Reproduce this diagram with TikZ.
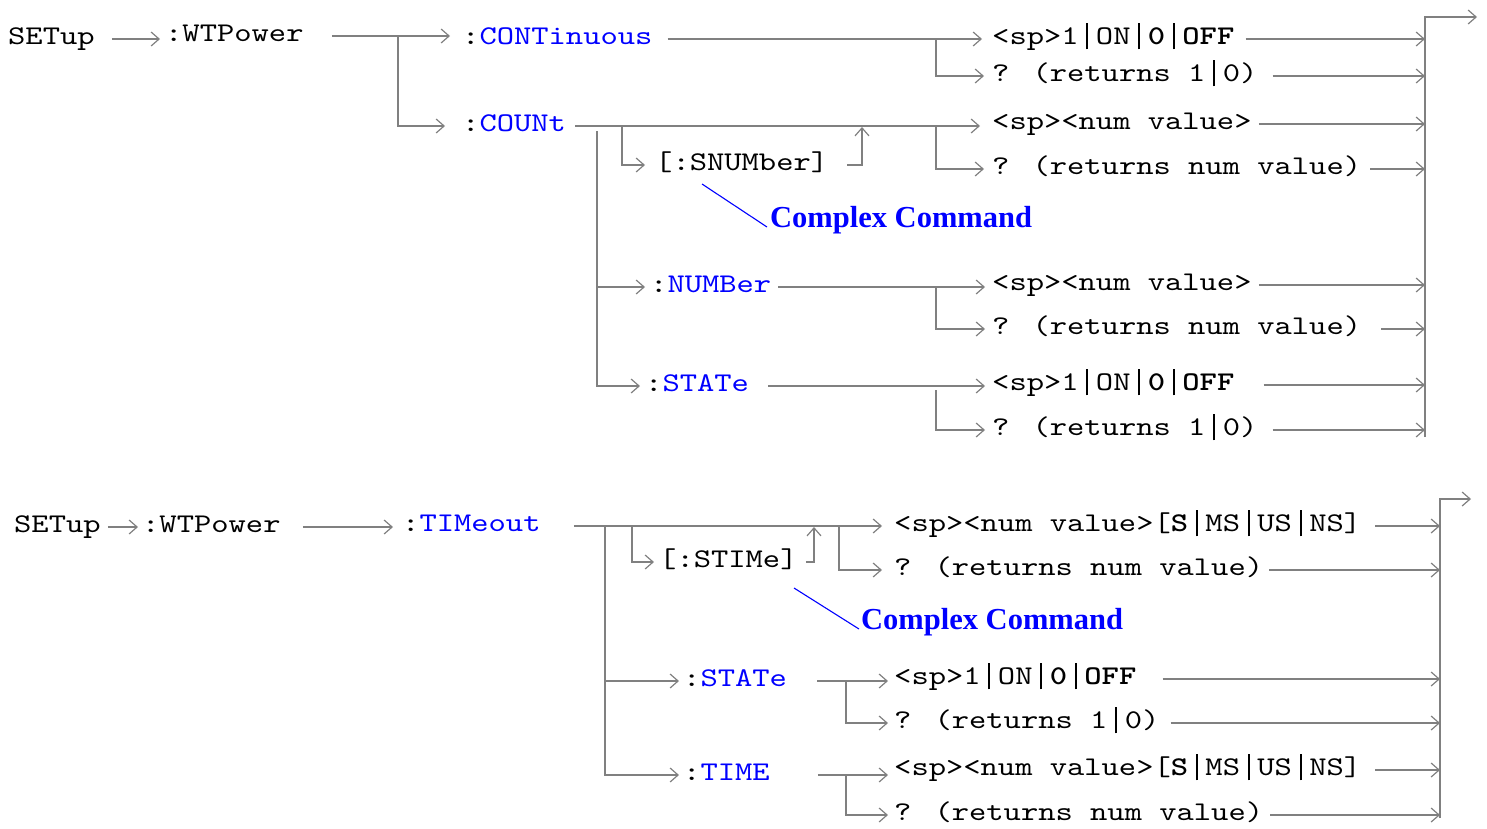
\documentclass[tikz,border=0pt]{standalone}
\usepackage{fontspec}
\usetikzlibrary{arrows.meta}
\newfontfamily\cmdfont{lmmono10-regular.otf}[BoldFont=lmmonolt10-bold.otf,FakeStretch=1.22]
\newfontfamily\notefont{Liberation Serif}
\definecolor{linegray}{RGB}{128,128,128}
\definecolor{cmdblue}{RGB}{0,0,255}
\newcommand{\kw}[1]{\textcolor{cmdblue}{#1}}
\newcommand{\vbar}{\makebox[0.6405em]{\rule[-0.2em]{0.075em}{0.98em}}}
\newcommand{\onoffsel}{<sp>1\vbar ON\vbar\textbf{0}\vbar\textbf{OFF}}
\newcommand{\timesel}{<sp><num value>[\textbf{S}\vbar MS\vbar US\vbar NS]}

\begin{document}
\begin{tikzpicture}[x=1pt,y=-1pt,
  ln/.style={linegray,line width=1.6pt},
  ar/.style={ln,-{Straight Barb[length=8pt,width=14pt,line width=1.2pt]}},
  cmd/.style={anchor=west,inner sep=0pt,text height=10pt,text depth=0pt,font=\cmdfont\fontsize{27}{27}\selectfont},
  note/.style={anchor=base west,inner sep=0pt,text=cmdblue,font=\notefont\bfseries\fontsize{30.5}{30.5}\selectfont},
  ptr/.style={cmdblue,line width=1.1pt}]
\useasboundingbox (0,0) rectangle (1487,828);
\node[cmd] (setup) at (8,39) {SETup};\node[cmd] (wtp) at (165,36) {:WTPower};
\node[cmd] (cont) at (462,39) {:\kw{CONTinuous}};\node[cmd] (count) at (462,126) {:\kw{COUNt}};
\node[cmd] (snum) at (655,165) {[:SNUMber]};
\node[cmd] (num) at (650,287) {:\kw{NUMBer}};\node[cmd] (state) at (645,386) {:\kw{STATe}};
\node[cmd] (r1) at (992,39) {\onoffsel};\node[cmd] (r2) at (992,76) {? (returns 1\vbar 0)};
\node[cmd] (r3) at (992,124) {<sp><num value>};\node[cmd] (r4) at (992,169) {? (returns num value)};
\node[cmd] (r5) at (992,285) {<sp><num value>};\node[cmd] (r6) at (992,329) {? (returns num value)};
\node[cmd] (r7) at (992,385) {\onoffsel};\node[cmd] (r8) at (992,430) {? (returns 1\vbar 0)};
\node[note] (cc1) at (770,227) {Complex Command};
\coordinate (ja) at (398,36);\coordinate (jb) at (936,39);\coordinate (jc) at (622,126);
\coordinate (jd) at (862,126);\coordinate (je) at (936,126);\coordinate (jf) at (597,131);
\coordinate (jg) at (936,287);\coordinate (jh) at (936,390);
\coordinate (bt1) at (1425,17);\coordinate (bb1) at (1425,437);\coordinate (ot1) at (1477,17);
\draw[ar,shorten >=5pt] ([xshift=17]setup.east) -- (setup.east -| wtp.west);
\draw[ar,shorten >=12pt] ([xshift=28]wtp.east) -- (wtp.east -| cont.west);
\draw[ar,shorten >=17pt] (ja) |- (count.west);
\draw[ar,shorten >=10pt] ([xshift=15]cont.east) -- (cont.east -| r1.west);
\draw[ar,shorten >=8pt] (jb) |- (r2.west);
\draw[ar,shorten >=12pt] ([xshift=9]count.east) -- (count.east -| r3.west);
\draw[ar,shorten >=10pt] (jc) |- (snum.west);
\draw[ar,shorten >=1pt] ([xshift=19]snum.east) -| (jd);
\draw[ar,shorten >=8pt] (je) |- (r4.west);
\draw[ar,shorten >=5pt] (jf) |- (state.west);
\draw[ar,shorten >=5pt] (jf |- num.west) -- (num.west);
\draw[ar,shorten >=7pt] ([xshift=7]num.east) -- (num.east -| r5.west);
\draw[ar,shorten >=7pt] (jg) |- (r6.west);
\draw[ar,shorten >=7pt] ([xshift=19]state.east) -- (state.east -| r7.west);
\draw[ar,shorten >=7pt] (jh) |- (r8.west);
\draw[ar] (bb1) -- (bt1) -- (ot1);
\foreach \n/\g in {r1/11,r2/15,r3/7,r4/9,r5/7,r6/20,r7/29,r8/15}{\draw[ar] ([xshift=\g]\n.east) -- (\n.east -| bt1);}
\draw[ptr] ([xshift=47,yshift=-14]snum.base west) -- ([xshift=-3]cc1.base west);
\node[cmd] (setupb) at (14,527) {SETup};\node[cmd] (wtpb) at (142,527) {:WTPower};
\node[cmd] (timeout) at (402,526) {:\kw{TIMeout}};\node[cmd] (stime) at (659,562) {[:STIMe]};
\node[cmd] (stateb) at (683,681) {:\kw{STATe}};\node[cmd] (timeb) at (683,775) {:\kw{TIME}};
\node[cmd] (r1b) at (894,526) {\timesel};\node[cmd] (r2b) at (894,570) {? (returns num value)};
\node[cmd] (r3b) at (894,679) {\onoffsel};\node[cmd] (r4b) at (894,723) {? (returns 1\vbar 0)};
\node[cmd] (r5b) at (894,770) {\timesel};\node[cmd] (r6b) at (894,815) {? (returns num value)};
\node[note] (ccb) at (861,629) {Complex Command};
\coordinate (ki) at (605,526);\coordinate (kj) at (632,526);\coordinate (kk) at (814,526);
\coordinate (kl) at (839,526);\coordinate (km) at (846,681);\coordinate (kn) at (846,775);
\coordinate (bt2) at (1440,499);\coordinate (bb2) at (1440,818);\coordinate (ot2) at (1471,499);
\draw[ar,shorten >=4pt] ([xshift=7]setupb.east) -- (setupb.east -| wtpb.west);
\draw[ar,shorten >=9pt] ([xshift=22]wtpb.east) -- (wtpb.east -| timeout.west);
\draw[ar,shorten >=12pt] ([xshift=33]timeout.east) -- (timeout.east -| r1b.west);
\draw[ar,shorten >=4pt] (ki) |- (timeb.west);
\draw[ar,shorten >=4pt] (ki |- stateb.west) -- (stateb.west);
\draw[ar,shorten >=5pt] (kj) |- (stime.west);
\draw[ar,shorten >=1pt] ([xshift=8]stime.east) -| (kk);
\draw[ar,shorten >=12pt] (kl) |- (r2b.west);
\draw[ar,shorten >=6pt] ([xshift=30]stateb.east) -- (stateb.east -| r3b.west);
\draw[ar,shorten >=6pt] (km) |- (r4b.west);
\draw[ar,shorten >=6pt] ([xshift=48]timeb.east) -- (timeb.east -| r5b.west);
\draw[ar,shorten >=6pt] (kn) |- (r6b.west);
\draw[ar] (bb2) -- (bt2) -- (ot2);
\foreach \n/\g in {r1b/14,r2b/6,r3b/26,r4b/11,r5b/14,r6b/7}{\draw[ar] ([xshift=\g]\n.east) -- (\n.east -| bt2);}
\draw[ptr] ([xshift=135,yshift=-21]stime.base west) -- ([xshift=-2]ccb.base west);
\end{tikzpicture}
\end{document}
